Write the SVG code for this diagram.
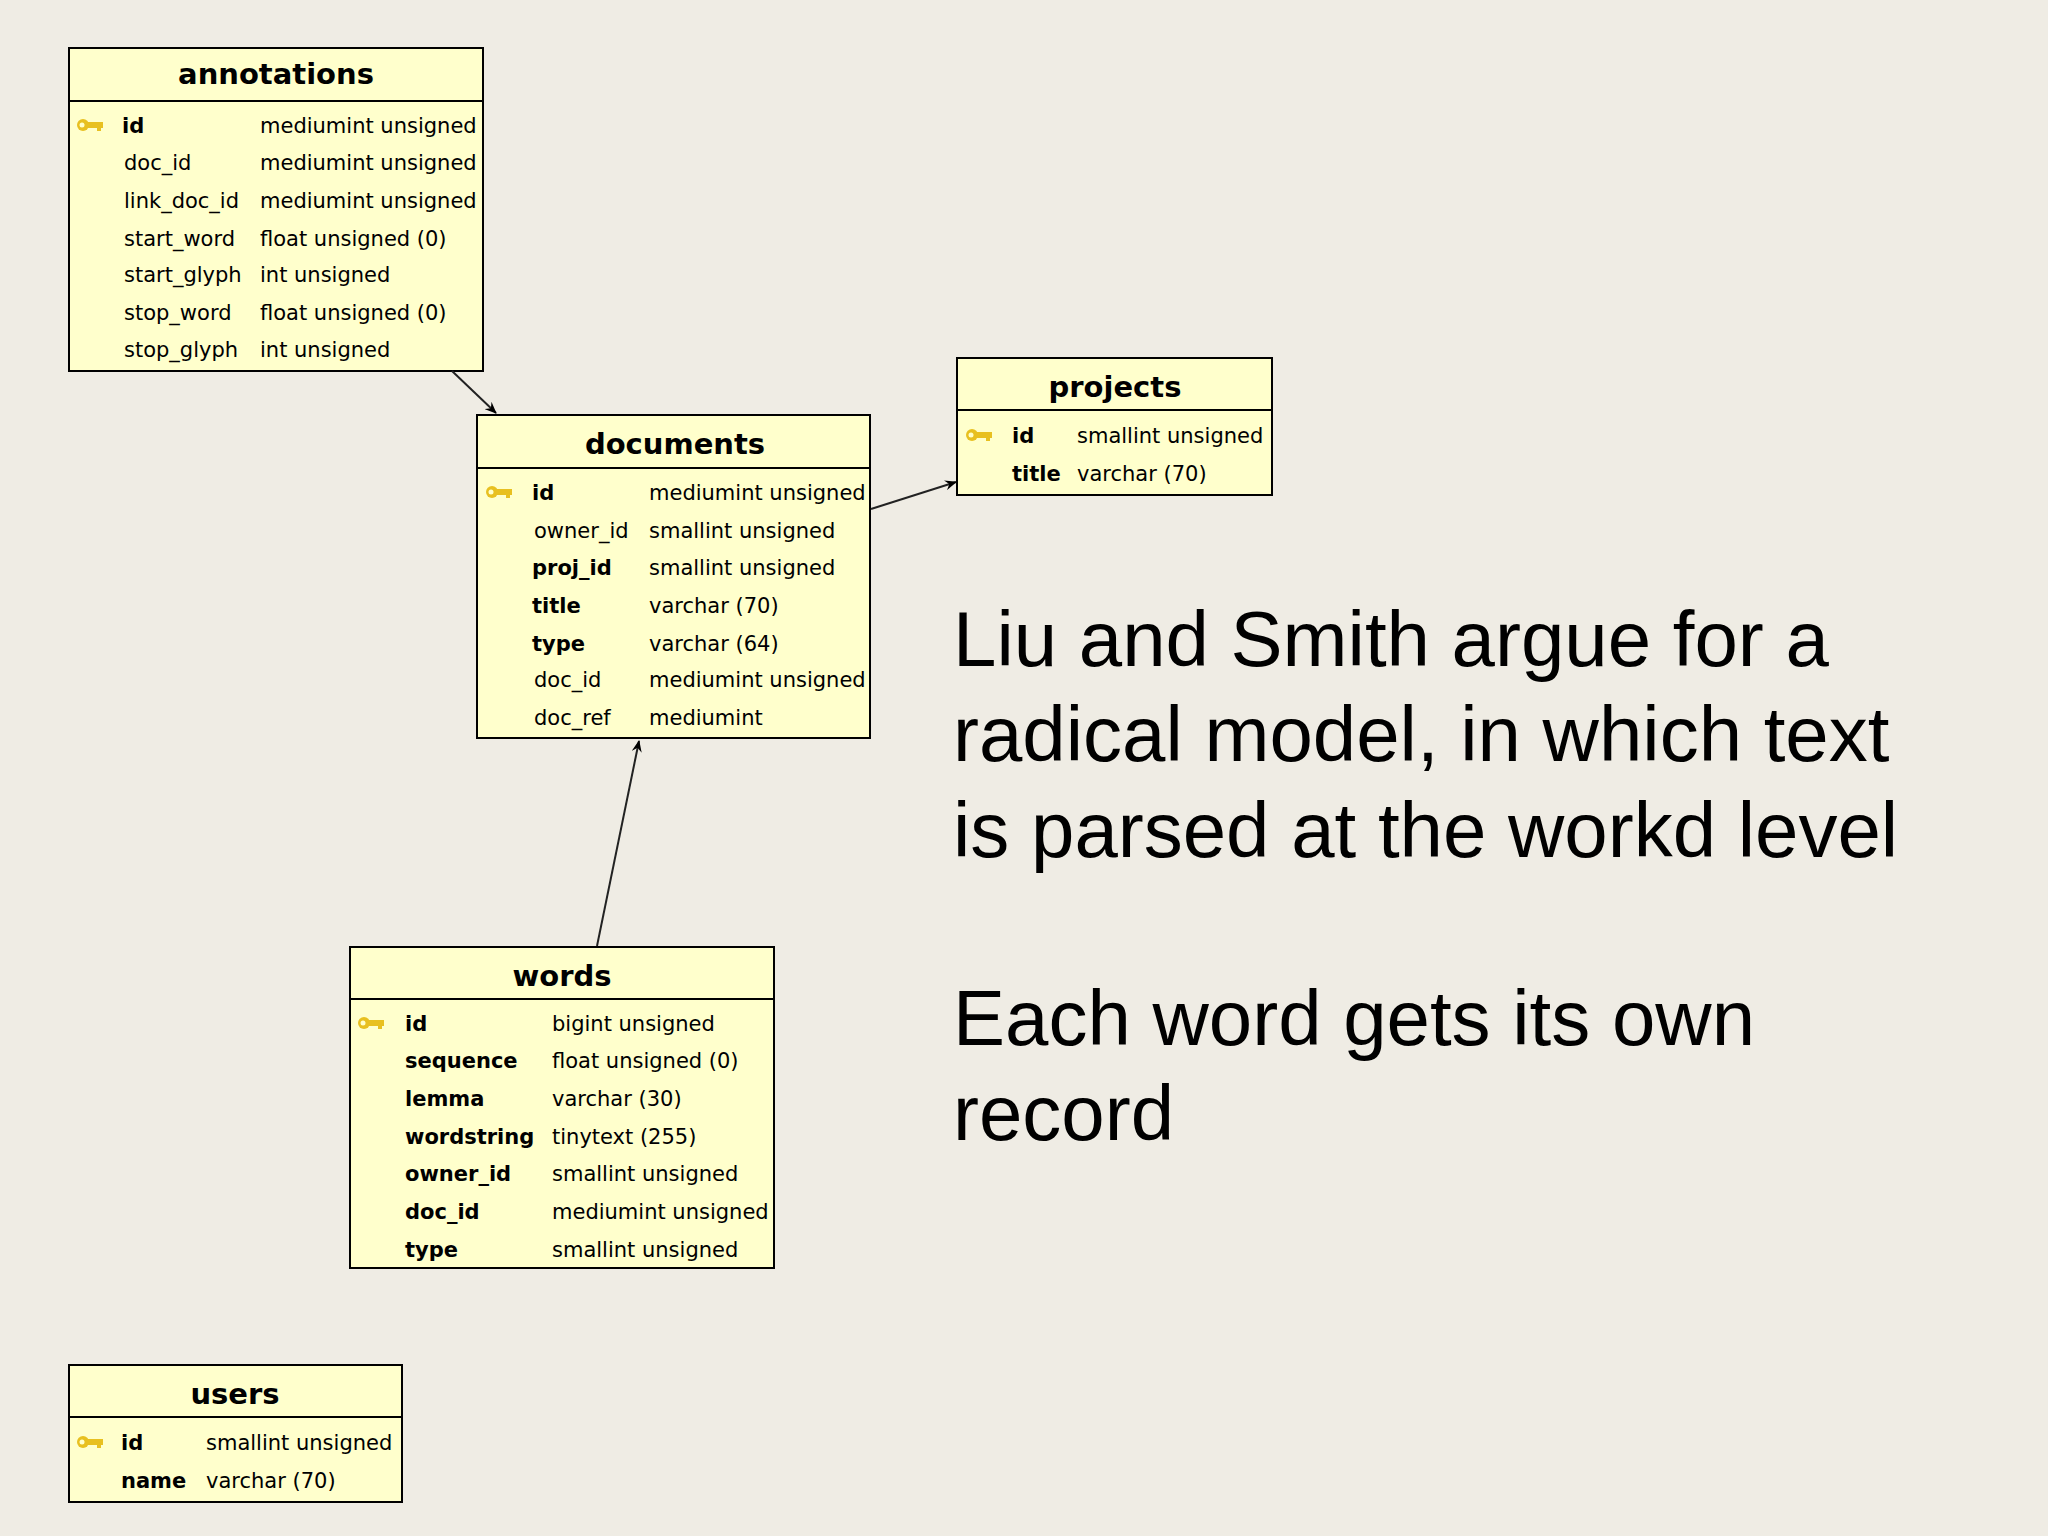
<svg xmlns="http://www.w3.org/2000/svg" width="2048" height="1536" viewBox="0 0 2048 1536">
<defs>
<style>
.tb{fill:#ffffcc;stroke:#000;stroke-width:2}
.t{font-family:"DejaVu Sans",sans-serif;font-size:29px;font-weight:bold;text-anchor:middle;fill:#000}
.r{font-family:"DejaVu Sans",sans-serif;font-size:21px;fill:#000}
.b{font-weight:bold}
.big{font-family:"Liberation Sans",Arial,sans-serif;font-size:78px;fill:#000}
.c{stroke:#222;stroke-width:2;fill:none;marker-end:url(#ah)}
</style>
<marker id="ah" viewBox="0 0 12 10" refX="11" refY="5" markerWidth="12" markerHeight="10" markerUnits="userSpaceOnUse" orient="auto"><path d="M0,0 L12,5 L0,10 L4,5 Z" fill="#000"/></marker>
<g id="key"><circle cx="6" cy="-7" r="6" fill="#e8c020"/><rect x="8" y="-10" width="18" height="6" fill="#e8c020"/><rect x="20" y="-6" width="4" height="5" fill="#e8c020"/><circle cx="5" cy="-7" r="2.5" fill="#ffffcc"/></g>
</defs>
<rect width="2048" height="1536" fill="#efece4"/>
<g id="annotations">
<rect class="tb" x="69" y="48" width="414" height="323"/><line x1="69" y1="101" x2="483" y2="101" stroke="#000" stroke-width="2"/>
<text class="t" x="276" y="84">annotations</text>
<use href="#key" x="77" y="132"/>
<text class="r b" x="122" y="133">id</text><text class="r" x="260" y="133">mediumint unsigned</text>
<text class="r" x="124" y="170">doc_id</text><text class="r" x="260" y="170">mediumint unsigned</text>
<text class="r" x="124" y="208">link_doc_id</text><text class="r" x="260" y="208">mediumint unsigned</text>
<text class="r" x="124" y="246">start_word</text><text class="r" x="260" y="246">float unsigned (0)</text>
<text class="r" x="124" y="282">start_glyph</text><text class="r" x="260" y="282">int unsigned</text>
<text class="r" x="124" y="320">stop_word</text><text class="r" x="260" y="320">float unsigned (0)</text>
<text class="r" x="124" y="357">stop_glyph</text><text class="r" x="260" y="357">int unsigned</text>
</g>
<g id="projects">
<rect class="tb" x="957" y="358" width="315" height="137"/><line x1="957" y1="410" x2="1272" y2="410" stroke="#000" stroke-width="2"/>
<text class="t" x="1115" y="397">projects</text>
<use href="#key" x="966" y="442"/>
<text class="r b" x="1012" y="443">id</text><text class="r" x="1077" y="443">smallint unsigned</text>
<text class="r b" x="1012" y="481">title</text><text class="r" x="1077" y="481">varchar (70)</text>
</g>
<g id="documents">
<rect class="tb" x="477" y="415" width="393" height="323"/><line x1="477" y1="468" x2="870" y2="468" stroke="#000" stroke-width="2"/>
<text class="t" x="675" y="454">documents</text>
<use href="#key" x="486" y="499"/>
<text class="r b" x="532" y="500">id</text><text class="r" x="649" y="500">mediumint unsigned</text>
<text class="r" x="534" y="538">owner_id</text><text class="r" x="649" y="538">smallint unsigned</text>
<text class="r b" x="532" y="575">proj_id</text><text class="r" x="649" y="575">smallint unsigned</text>
<text class="r b" x="532" y="613">title</text><text class="r" x="649" y="613">varchar (70)</text>
<text class="r b" x="532" y="651">type</text><text class="r" x="649" y="651">varchar (64)</text>
<text class="r" x="534" y="687">doc_id</text><text class="r" x="649" y="687">mediumint unsigned</text>
<text class="r" x="534" y="725">doc_ref</text><text class="r" x="649" y="725">mediumint</text>
</g>
<g id="words">
<rect class="tb" x="350" y="947" width="424" height="321"/><line x1="350" y1="999" x2="774" y2="999" stroke="#000" stroke-width="2"/>
<text class="t" x="562" y="986">words</text>
<use href="#key" x="358" y="1030"/>
<text class="r b" x="405" y="1031">id</text><text class="r" x="552" y="1031">bigint unsigned</text>
<text class="r b" x="405" y="1068">sequence</text><text class="r" x="552" y="1068">float unsigned (0)</text>
<text class="r b" x="405" y="1106">lemma</text><text class="r" x="552" y="1106">varchar (30)</text>
<text class="r b" x="405" y="1144">wordstring</text><text class="r" x="552" y="1144">tinytext (255)</text>
<text class="r b" x="405" y="1181">owner_id</text><text class="r" x="552" y="1181">smallint unsigned</text>
<text class="r b" x="405" y="1219">doc_id</text><text class="r" x="552" y="1219">mediumint unsigned</text>
<text class="r b" x="405" y="1257">type</text><text class="r" x="552" y="1257">smallint unsigned</text>
</g>
<g id="users">
<rect class="tb" x="69" y="1365" width="333" height="137"/><line x1="69" y1="1417" x2="402" y2="1417" stroke="#000" stroke-width="2"/>
<text class="t" x="235" y="1404">users</text>
<use href="#key" x="77" y="1449"/>
<text class="r b" x="121" y="1450">id</text><text class="r" x="206" y="1450">smallint unsigned</text>
<text class="r b" x="121" y="1488">name</text><text class="r" x="206" y="1488">varchar (70)</text>
</g>
<g id="connectors">
<line class="c" x1="452" y1="371" x2="496" y2="413"/>
<line class="c" x1="871" y1="509" x2="956" y2="482"/>
<line class="c" x1="597" y1="946" x2="639" y2="741"/>
</g>
<g id="caption">
<text class="big" x="953" y="666">Liu and Smith argue for a</text>
<text class="big" x="953" y="761">radical model, in which text</text>
<text class="big" x="953" y="857">is parsed at the workd level</text>
<text class="big" x="953" y="1045">Each word gets its own</text>
<text class="big" x="953" y="1140">record</text>
</g>
</svg>
